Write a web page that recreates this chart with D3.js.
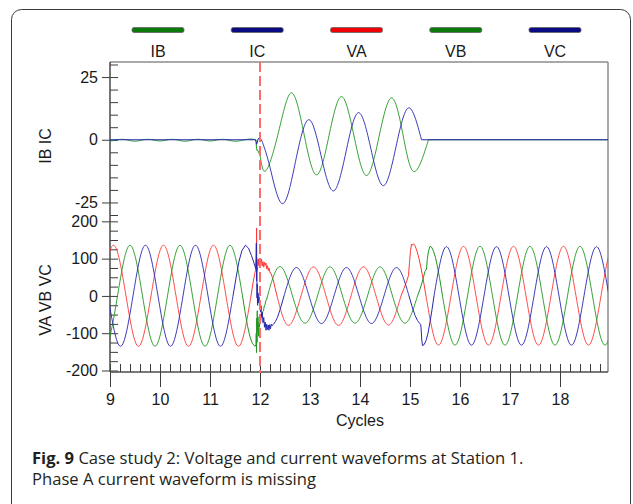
<!DOCTYPE html>
<html>
<head>
<meta charset="utf-8">
<script src="https://cdn.jsdelivr.net/npm/d3@7"></script>
<style>
  html, body { margin: 0; padding: 0; background: #fff; }
  svg { display: block; }
  .lbl { font-family: "Liberation Sans", Arial, sans-serif; font-size: 16px; fill: #1a1a1a; }
  .caption { font-family: "Open Sans", "Noto Sans", sans-serif; font-size: 16.6px; fill: #231f20; }
</style>
</head>
<body>
<div id="chart"></div>
<script>
// ---- data (x in cycles) ----
const legendNames = ["IB", "IC", "VA", "VB", "VC"];
const cycleTicks = [9, 10, 11, 12, 13, 14, 15, 16, 17, 18];
const currentTicks = [25, 0, -25];
const voltageTicks = [200, 100, 0, -100, -200];
const faultCycle = 12;

// IB (green, upper panel)
const ibSmooth = [
  [[8.75, 0.2], [9.0, -0.5], [9.25, 0.2], [9.5, -0.6], [9.75, 0.2], [10.0, -0.5], [10.25, 0.2], [10.5, -0.6],
   [10.75, 0.2], [11.0, -0.5], [11.25, 0.2], [11.5, -0.6], [11.75, 0.2], [11.92, 0]],
  [[12.0, -6], [12.12, -12.3], [12.37, 3], [12.63, 18.7], [12.88, 2.3], [13.13, -14], [13.38, 1.6], [13.63, 17.2],
   [13.88, 1.5], [14.13, -14.3], [14.38, 1.2], [14.63, 16.7], [14.86, 2], [15.08, -12.7], [15.37, 0]]
];
const ibRough = [
  [[11.92, 0], [11.93, -3.5], [11.94, -4.2], [11.95, -4], [11.97, -5], [12.0, -6]],
  [[15.37, 0], [19.0, 0]]
];

// IC (blue, upper panel)
const icSmooth = [
  [[12.03, 0], [12.2, -11], [12.45, -25.5], [12.71, -8.7], [12.97, 8], [13.22, -6.2], [13.47, -20.4], [13.72, -4.8],
   [13.97, 10.8], [14.22, -3.8], [14.47, -18.3], [14.72, -2.8], [14.97, 12.7], [15.23, 0]]
];
const icRough = [
  [[8.9, 0], [11.9, 0], [11.92, -0.6], [11.93, -1.8], [11.945, -1.2], [11.96, 0.3], [11.98, 0.6], [12.0, 0.4], [12.03, 0]],
  [[15.23, 0], [19.0, 0]]
];

// VA (red, lower panel)
const vaSmooth = [
  [[8.82, 0], [9.07, 136], [9.32, 0], [9.57, -135], [9.82, 0], [10.07, 136], [10.32, 0], [10.57, -135],
   [10.82, 0], [11.07, 136], [11.32, 0], [11.57, -135], [11.82, 0]],
  [[12.34, 0], [12.57, -79], [12.82, 0], [13.07, 78], [13.32, 0], [13.57, -79], [13.82, 0], [14.07, 78],
   [14.32, 0], [14.57, -78], [14.82, 0]],
  [[15.32, 0], [15.57, -132], [15.82, 0], [16.07, 133], [16.32, 0], [16.57, -132], [16.82, 0], [17.07, 133],
   [17.32, 0], [17.57, -132], [17.82, 0], [18.07, 133], [18.32, 0], [18.57, -132], [18.82, 0], [19.07, 133], [19.32, 0]]
];
const vaRough = [
  [[11.82, 0], [11.86, 35], [11.9, 63], [11.92, 74], [11.928, 110], [11.932, 182], [11.936, 66], [11.94, 96],
   [11.95, 72], [11.96, 100], [11.97, 82], [11.98, 97], [11.99, 78], [12.0, 94], [12.015, 84], [12.03, 99],
   [12.045, 80], [12.06, 92], [12.075, 77], [12.09, 90], [12.105, 82], [12.12, 88], [12.135, 72], [12.15, 81],
   [12.165, 68], [12.18, 75], [12.2, 62], [12.22, 61], [12.245, 50], [12.27, 40], [12.3, 22], [12.34, 0]],
  [[14.82, 0], [14.88, 20], [14.94, 42], [14.97, 55], [14.99, 90], [15.01, 122], [15.03, 139], [15.05, 136],
   [15.07, 140], [15.1, 135], [15.14, 120], [15.18, 100], [15.22, 75], [15.26, 47], [15.29, 24], [15.32, 0]]
];

// VB (green, lower panel)
const vbSmooth = [
  [[8.65, 0], [8.9, -135], [9.15, 0], [9.4, 136], [9.65, 0], [9.9, -135], [10.15, 0], [10.4, 136],
   [10.65, 0], [10.9, -135], [11.15, 0], [11.4, 136], [11.65, 0]],
  [[12.15, 0], [12.4, 79], [12.65, 0], [12.9, -73], [13.15, 0], [13.4, 78], [13.65, 0], [13.9, -73],
   [14.15, 0], [14.4, 78], [14.65, 0], [14.9, -73], [15.15, 0]],
  [[15.65, 0], [15.9, -132], [16.15, 0], [16.4, 133], [16.65, 0], [16.9, -132], [17.15, 0], [17.4, 133],
   [17.65, 0], [17.9, -132], [18.15, 0], [18.4, 133], [18.65, 0], [18.9, -132], [19.15, 0]]
];
const vbRough = [
  [[11.65, 0], [11.7, -42], [11.75, -80], [11.8, -110], [11.85, -128], [11.9, -135], [11.92, -130], [11.925, -100],
   [11.93, -152], [11.935, -60], [11.94, -125], [11.945, -40], [11.95, -95], [11.96, -70], [11.97, -108],
   [11.98, -56], [11.99, -84], [12.0, -60], [12.01, -72], [12.025, -56], [12.04, -58], [12.055, -42], [12.07, -40],
   [12.085, -27], [12.1, -24], [12.115, -13], [12.13, -11], [12.15, 0]],
  [[15.15, 0], [15.2, 18], [15.25, 40], [15.3, 66], [15.33, 72], [15.345, 98], [15.37, 120], [15.4, 133],
   [15.43, 131], [15.47, 120], [15.51, 103], [15.55, 78], [15.59, 49], [15.62, 25], [15.65, 0]]
];

// VC (blue, lower panel)
const vcSmooth = [
  [[8.46, 0], [8.71, 136], [8.96, 0], [9.21, -135], [9.46, 0], [9.71, 136], [9.96, 0], [10.21, -135],
   [10.46, 0], [10.71, 136], [10.96, 0], [11.21, -135], [11.46, 0]],
  [[12.48, 0], [12.73, 76], [12.98, 0], [13.23, -74], [13.48, 0], [13.73, 76], [13.98, 0], [14.23, -74],
   [14.48, 0], [14.73, 76], [14.98, 0]],
  [[15.48, 0], [15.73, 132], [15.98, 0], [16.23, -132], [16.48, 0], [16.73, 132], [16.98, 0], [17.23, -132],
   [17.48, 0], [17.73, 132], [17.98, 0], [18.23, -132], [18.48, 0], [18.73, 132], [18.98, 0]]
];
const vcRough = [
  [[11.46, 0], [11.52, 48], [11.58, 93], [11.64, 122], [11.71, 136], [11.77, 128], [11.83, 108], [11.88, 88],
   [11.9, 80], [11.915, 72], [11.922, 100], [11.927, 142], [11.932, 40], [11.936, 75], [11.94, -5], [11.945, 32],
   [11.95, -25], [11.96, 8], [11.97, -18], [11.98, -2], [11.99, -32], [12.0, -14], [12.01, -42], [12.02, -26],
   [12.03, -56], [12.045, -44], [12.06, -72], [12.075, -58], [12.09, -84], [12.105, -70], [12.12, -92],
   [12.135, -76], [12.15, -90], [12.165, -78], [12.18, -92], [12.195, -77], [12.21, -88], [12.225, -76],
   [12.24, -80], [12.27, -76], [12.31, -68], [12.35, -57], [12.4, -37], [12.44, -19], [12.48, 0]],
  [[14.98, 0], [15.04, -28], [15.1, -52], [15.15, -66], [15.19, -73], [15.21, -76], [15.22, -84], [15.235, -118],
   [15.25, -133], [15.28, -131], [15.32, -120], [15.36, -100], [15.4, -70], [15.44, -37], [15.48, 0]]
];

// ---- layout ----
const W = 633, H = 504;
const PLOT = { left: 110, right: 608, top: 62, split: 215, bottom: 372 };
const COLORS = { IB: "#1f961f", IC: "#2626b0", VA: "#ff3838", VB: "#1f961f", VC: "#2626b0" };
const SWATCH = { IB: "#0b7a0b", IC: "#0a0a82", VA: "#f00000", VB: "#0b7a0b", VC: "#0a0a82" };

const svg = d3.select("#chart").append("svg").attr("width", W).attr("height", H);

// outer figure box
svg.append("rect")
  .attr("x", 11.5).attr("y", 9.5).attr("width", 619).attr("height", 560).attr("rx", 10)
  .attr("fill", "none").attr("stroke", "#3a3a3a").attr("stroke-width", 1);

const x = d3.scaleLinear().domain([9, 18.96]).range([PLOT.left, PLOT.right]);
const yI = d3.scaleLinear().domain([-30, 31]).range([PLOT.split, PLOT.top]);
const yV = d3.scaleLinear().domain([-204, 217]).range([PLOT.bottom, PLOT.split]);

// clip regions for each panel
const defs = svg.append("defs");
defs.append("clipPath").attr("id", "clipI").append("rect")
  .attr("x", PLOT.left).attr("y", PLOT.top).attr("width", PLOT.right - PLOT.left).attr("height", PLOT.split - PLOT.top);
defs.append("clipPath").attr("id", "clipV").append("rect")
  .attr("x", PLOT.left).attr("y", PLOT.split).attr("width", PLOT.right - PLOT.left).attr("height", PLOT.bottom - PLOT.split);

// frame
svg.append("line").attr("x1", PLOT.left).attr("x2", PLOT.right).attr("y1", PLOT.top).attr("y2", PLOT.top)
  .attr("stroke", "#8c8c8c").attr("stroke-width", 1.5);
svg.append("line").attr("x1", PLOT.right).attr("x2", PLOT.right).attr("y1", PLOT.top).attr("y2", PLOT.bottom)
  .attr("stroke", "#8c8c8c").attr("stroke-width", 1.5);

const plain = d => String(d); // hyphen minus like the original

function styleAxis(g) {
  g.select(".domain").remove();
  g.selectAll(".tick line").attr("stroke", "#3c3c3c");
  g.selectAll(".tick text").attr("class", "lbl").attr("fill", null);
}

// y axes: major ticks cross the axis, minor ticks point inward
function drawYAxis(scale, majors, minors) {
  svg.append("g").attr("transform", `translate(${PLOT.left},0)`)
    .call(d3.axisLeft(scale).tickValues(majors).tickSize(8).tickPadding(4).tickFormat(plain))
    .call(styleAxis);
  svg.append("g").attr("transform", `translate(${PLOT.left},0)`)
    .call(d3.axisLeft(scale).tickValues(minors).tickSize(-8).tickFormat(""))
    .call(styleAxis);
}
drawYAxis(yI, currentTicks, d3.range(-30, 31, 5));
drawYAxis(yV, voltageTicks, d3.range(-200, 201, 25));

// x axis
svg.append("g").attr("transform", `translate(0,${PLOT.bottom})`)
  .call(d3.axisBottom(x).tickValues(cycleTicks).tickSize(15).tickPadding(7).tickFormat(plain))
  .call(styleAxis);
svg.append("g").attr("transform", `translate(0,${PLOT.bottom})`)
  .call(d3.axisBottom(x).tickValues(d3.range(0, 50).map(i => 9 + i * 0.2)).tickSize(-8).tickFormat(""))
  .call(styleAxis);

svg.append("line").attr("x1", PLOT.left).attr("x2", PLOT.left).attr("y1", PLOT.top).attr("y2", PLOT.bottom)
  .attr("stroke", "#4a4a4a").attr("stroke-width", 1.5);
svg.append("line").attr("x1", PLOT.left).attr("x2", PLOT.right).attr("y1", PLOT.bottom).attr("y2", PLOT.bottom)
  .attr("stroke", "#4a4a4a").attr("stroke-width", 1.5);

// axis titles
svg.append("text").attr("class", "lbl").attr("text-anchor", "middle")
  .attr("transform", "translate(51,146) rotate(-90)").text("IB IC");
svg.append("text").attr("class", "lbl").attr("text-anchor", "middle")
  .attr("transform", "translate(51,300) rotate(-90)").text("VA VB VC");
svg.append("text").attr("class", "lbl").attr("text-anchor", "middle")
  .attr("x", x(14)).attr("y", 426).text("Cycles");

// waveforms
const series = [
  { name: "IB", y: yI, clip: "clipI", smooth: ibSmooth, rough: ibRough },
  { name: "IC", y: yI, clip: "clipI", smooth: icSmooth, rough: icRough },
  { name: "VA", y: yV, clip: "clipV", smooth: vaSmooth, rough: vaRough },
  { name: "VB", y: yV, clip: "clipV", smooth: vbSmooth, rough: vbRough },
  { name: "VC", y: yV, clip: "clipV", smooth: vcSmooth, rough: vcRough }
];

series.forEach(s => {
  const g = svg.append("g").attr("clip-path", `url(#${s.clip})`);
  const smoothLine = d3.line().x(d => x(d[0])).y(d => s.y(d[1])).curve(d3.curveNatural);
  const roughLine = d3.line().x(d => x(d[0])).y(d => s.y(d[1]));
  g.selectAll(".smooth").data(s.smooth).join("path")
    .attr("d", smoothLine).attr("fill", "none").attr("stroke", COLORS[s.name]).attr("stroke-width", 0.9);
  g.selectAll(".rough").data(s.rough).join("path")
    .attr("d", roughLine).attr("fill", "none").attr("stroke", COLORS[s.name]).attr("stroke-width", 1)
    .attr("stroke-linejoin", "round");
});

// fault marker
svg.append("line")
  .attr("x1", x(faultCycle)).attr("x2", x(faultCycle)).attr("y1", PLOT.top).attr("y2", PLOT.bottom + 1)
  .attr("stroke", "#ff6a6a").attr("stroke-width", 2).attr("stroke-dasharray", "10,4");

// legend
const lx = d3.scalePoint().domain(legendNames).range([158, 555]);
const leg = svg.append("g").selectAll("g").data(legendNames).join("g")
  .attr("transform", d => `translate(${lx(d)},0)`);
leg.append("rect").attr("x", -26).attr("y", 27.5).attr("width", 52).attr("height", 5).attr("rx", 2)
  .attr("fill", d => SWATCH[d]).attr("stroke", "#666").attr("stroke-width", 0.8);
leg.append("text").attr("class", "lbl").attr("text-anchor", "middle").attr("y", 57).text(d => d);

// caption
const cap1 = svg.append("text").attr("class", "caption").attr("x", 32).attr("y", 464);
cap1.append("tspan").attr("font-weight", "bold").text("Fig. 9");
cap1.append("tspan").text(" Case study 2: Voltage and current waveforms at Station 1.");
svg.append("text").attr("class", "caption").attr("x", 32).attr("y", 485)
  .text("Phase A current waveform is missing");
</script>
</body>
</html>
